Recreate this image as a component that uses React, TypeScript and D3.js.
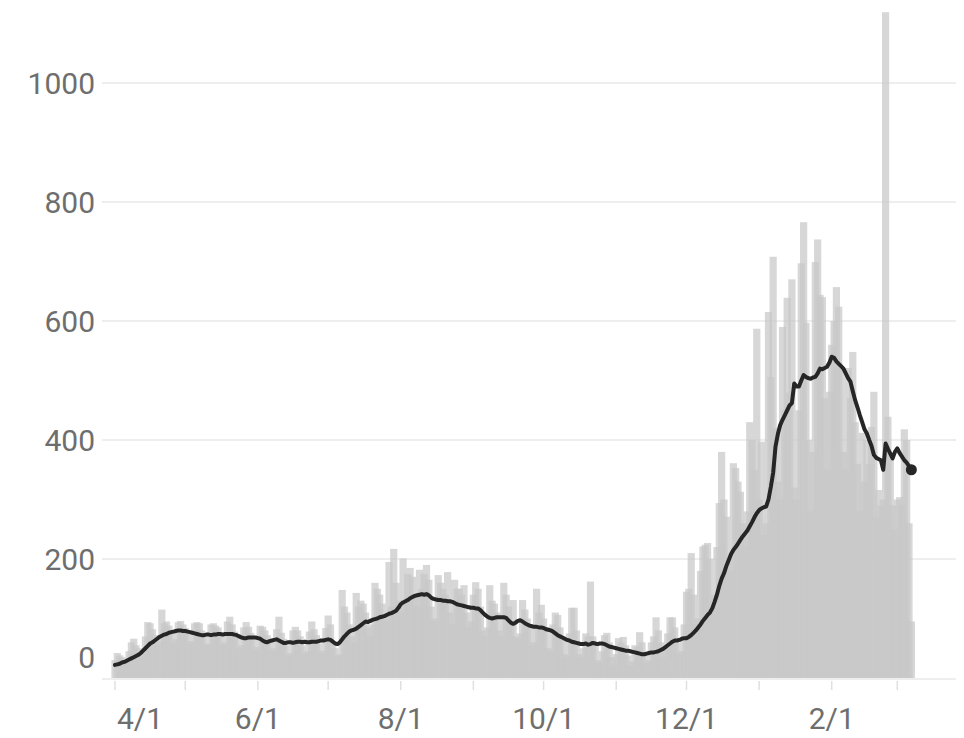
import React from "react";
import * as d3 from "d3";

const START = Date.UTC(2020, 3, 1);

// Daily bar values, from 4/1/2020
const dailyValues: number[] = [
  30, 42, 38, 35, 25, 28, 45,
  60, 66, 55, 50, 38, 42, 70,
  94, 92, 82, 72, 55, 62, 115,
  92, 95, 88, 78, 60, 65, 94,
  96, 90, 84, 76, 58, 62, 92,
  94, 92, 80, 70, 55, 58, 90,
  92, 88, 85, 75, 56, 60, 95,
  103, 90, 78, 70, 50, 55, 85,
  94, 86, 76, 65, 48, 52, 88,
  86, 80, 72, 60, 45, 50, 82,
  103, 76, 66, 55, 38, 42, 80,
  86, 80, 70, 55, 40, 45, 78,
  95, 82, 72, 58, 42, 46, 84,
  105, 90, 62, 50, 36, 40, 148,
  120, 110, 90, 70, 60, 143, 120,
  130, 125, 110, 85, 70, 90, 160,
  150, 140, 125, 100, 95, 195, 120,
  217, 160, 130, 110, 201, 130, 175,
  185, 170, 140, 120, 182, 150, 175,
  190, 165, 120, 100, 95, 173, 160,
  150, 140, 178, 110, 90, 165, 150,
  150, 140, 156, 110, 85, 95, 140,
  161, 150, 120, 80, 70, 85, 156,
  130, 125, 110, 80, 70, 160, 140,
  120, 90, 131, 70, 65, 75, 131,
  115, 100, 90, 55, 60, 150, 110,
  123, 100, 85, 50, 45, 90, 110,
  106, 85, 70, 40, 35, 75, 118,
  118, 80, 40, 35, 50, 75, 70,
  162, 70, 55, 30, 25, 45, 72,
  76, 60, 35, 22, 40, 67, 60,
  69, 55, 38, 20, 28, 55, 52,
  77, 60, 42, 25, 30, 60, 70,
  102, 80, 60, 35, 50, 75, 102,
  102, 85, 60, 40, 45, 90, 145,
  150, 210, 140, 90, 100, 180, 221,
  224, 227, 200, 120, 140, 220, 294,
  380, 300, 271, 200, 180, 361, 353,
  330, 313, 260, 220, 280, 430, 400,
  350, 587, 300, 397, 240, 260, 615,
  506, 708, 420, 330, 300, 590, 450,
  639, 480, 670, 320, 300, 450, 697,
  766, 597, 400, 280, 380, 699, 737,
  644, 640, 470, 350, 481, 560, 600,
  657, 624, 520, 380, 350, 521, 470,
  548, 430, 360, 280, 412, 330, 400,
  360, 422, 481, 270, 316, 290, 300,
  1119, 439, 380, 290, 250, 300, 304,
  290, 418, 400, 260, 95,
];

// 7-day average line
const averageValues: number[] = [
  22, 23, 24, 26, 27, 29, 31, 33, 35, 37,
  39, 42, 46, 50, 54, 58, 60, 63, 66, 69,
  71, 73, 74, 76, 77, 78, 79, 80, 80, 79,
  79, 78, 77, 76, 75, 74, 73, 72, 72, 73,
  73, 72, 73, 73, 74, 74, 73, 74, 74, 74,
  74, 73, 72, 70, 68, 67, 67, 68, 68, 68,
  68, 67, 66, 63, 61, 60, 62, 63, 64, 65,
  63, 61, 59, 59, 60, 60, 59, 60, 61, 61,
  60, 61, 60, 60, 61, 61, 61, 62, 63, 63,
  64, 65, 64, 61, 58, 57, 60, 65, 70, 74,
  78, 80, 81, 83, 86, 89, 92, 95, 94, 96,
  98, 99, 100, 102, 103, 104, 106, 108, 109, 111,
  113, 118, 124, 127, 129, 131, 134, 136, 138, 139,
  140, 141, 140, 141, 139, 135, 133, 132, 131, 131,
  130, 130, 129, 129, 128, 126, 124, 123, 122, 121,
  120, 119, 118, 118, 117, 117, 114, 110, 106, 103,
  101, 100, 101, 102, 102, 102, 102, 101, 97, 93,
  91, 93, 96, 97, 95, 92, 90, 88, 87, 86,
  86, 85, 85, 84, 82, 81, 80, 78, 75, 72,
  70, 68, 66, 64, 63, 61, 60, 59, 58, 57,
  57, 58, 56, 57, 59, 58, 57, 58, 58, 57,
  55, 53, 52, 51, 50, 49, 48, 47, 46, 46,
  45, 44, 43, 42, 41, 40, 40, 41, 42, 43,
  43, 44, 45, 47, 49, 52, 55, 58, 61, 63,
  63, 64, 66, 67, 67, 69, 72, 76, 80, 85,
  90, 96, 101, 106, 110, 117, 128, 140, 155, 167,
  176, 188, 198, 208, 215, 220, 226, 232, 238, 243,
  248, 255, 262, 270, 277, 282, 285, 287, 288, 300,
  321, 345, 389, 410, 425, 434, 442, 450, 458, 462,
  495, 490, 490, 500, 509, 506, 504, 503, 505, 506,
  512, 520, 519, 521, 523, 530, 540, 538, 532, 528,
  524, 520, 512, 504, 498, 482, 467, 455, 442, 430,
  418, 411, 400, 390, 375, 370, 368, 366, 350, 394,
  385, 377, 369, 380, 386, 378, 372, 366, 362, 356,
  350,
];

const yTickValues: number[] = [0, 200, 400, 600, 800, 1000];
const xTickMonths: Date[] = d3.utcMonths(new Date(Date.UTC(2020, 3, 1)), new Date(Date.UTC(2021, 2, 2)));
const xLabelMonths: string[] = ["4/1", "6/1", "8/1", "10/1", "12/1", "2/1"];

const W = 964;
const H = 738;
const FONT = "Roboto, 'Open Sans', sans-serif";

export default function App() {
  const dayMs = 864e5;
  const dates = dailyValues.map((_, i) => new Date(START + i * dayMs));

  const x = d3
    .scaleUtc()
    .domain([new Date(Date.UTC(2020, 3, 1)), new Date(Date.UTC(2021, 2, 1))])
    .range([115, 897.3]);
  const y = d3.scaleLinear().domain([0, 1000]).range([678, 83]);

  const barW = 7.2;
  const line = d3
    .line<number>()
    .x((_, i) => x(new Date(START + i * dayMs)))
    .y((d) => y(d));

  const last = averageValues.length - 1;
  const fmt = (d: Date) => `${d.getUTCMonth() + 1}/${d.getUTCDate()}`;

  return (
    <svg
      width={W}
      height={H}
      style={{ position: "absolute", left: 0, top: 0, background: "#fff" }}
    >
      <rect x={0} y={0} width={W} height={H} fill="#fff" />
      {yTickValues.map((v) => (
        <line
          key={"g" + v}
          x1={102}
          x2={956}
          y1={y(v) + (v === 0 ? 1 : 0)}
          y2={y(v) + (v === 0 ? 1 : 0)}
          stroke="#eeeeee"
          strokeWidth={2}
        />
      ))}
      <g>
        {dailyValues.map((v, i) => (
          <rect
            key={"b" + i}
            x={x(dates[i]) - barW / 2}
            y={y(v)}
            width={barW}
            height={y(0) - y(v)}
            fill="#c8c8c8"
            fillOpacity={0.72}
          />
        ))}
      </g>
      <path
        d={line(averageValues) || ""}
        fill="none"
        stroke="#262626"
        strokeWidth={4}
        strokeLinejoin="round"
        strokeLinecap="round"
      />
      <circle
        cx={x(new Date(START + last * dayMs))}
        cy={y(averageValues[last])}
        r={5.5}
        fill="#262626"
      />
      {xTickMonths.map((m, i) => (
        <line
          key={"t" + i}
          x1={x(m)}
          x2={x(m)}
          y1={681}
          y2={690}
          stroke="#e0e0e0"
          strokeWidth={1.5}
        />
      ))}
      {xTickMonths
        .filter((m) => xLabelMonths.includes(fmt(m)))
        .map((m, i) => (
          <text
            key={"xl" + i}
            x={i === 0 ? x(m) + 2 : x(m)}
            y={729}
            textAnchor={i === 0 ? "start" : "middle"}
            fontSize={30}
            fontFamily={FONT}
            fill="#6e6e6e"
          >
            {fmt(m)}
          </text>
        ))}
      {yTickValues.map((v) => (
        <text
          key={"yl" + v}
          x={95}
          y={v === 0 ? 657 : y(v)}
          dy="0.36em"
          textAnchor="end"
          fontSize={30}
          fontFamily={FONT}
          fill="#6e6e6e"
        >
          {v}
        </text>
      ))}
    </svg>
  );
}
